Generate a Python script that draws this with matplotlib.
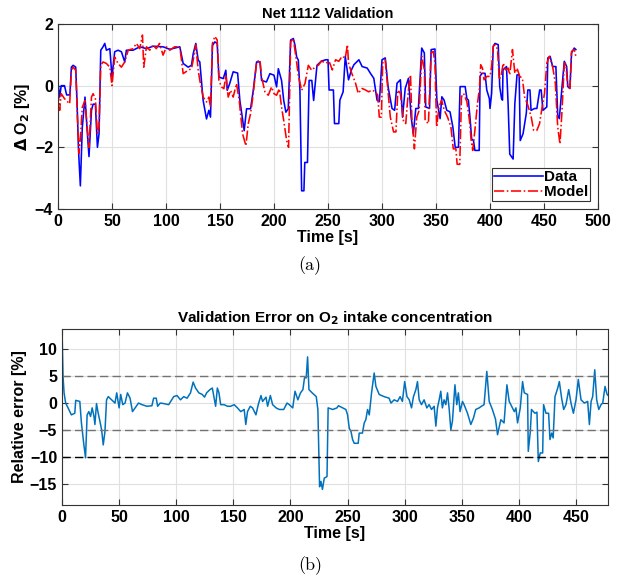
import numpy as np
import matplotlib
matplotlib.use("Agg")
import matplotlib.pyplot as plt

plt.rcParams['font.family'] = ['Liberation Sans', 'DejaVu Sans']
plt.rcParams['font.weight'] = 'bold'
plt.rcParams['axes.titleweight'] = 'bold'
plt.rcParams['axes.labelweight'] = 'bold'

# --- (a) measured vs. model, delta O2 [%] ---
data_t = [0, 1.5, 3, 6, 8, 11, 12.4, 14, 16.4, 17.6, 19, 20.7, 22.5, 25, 27, 28.7, 31, 32.5, 34.6, 36.5,
          38, 39.6, 41.7, 43.3, 44.8, 48, 50, 52.5, 55.6, 58.7, 61.8, 63.3, 69.5, 75.7, 81.9, 88, 97.3,
          103.5, 112.8, 115.9, 120.5, 123.6, 125.2, 127.6, 129.8, 131.3, 134.4, 137.5, 139.7, 141.2, 143,
          145.2, 147.4, 149, 153, 155.4, 156.7, 159, 162.2, 166.3, 168.4, 172.4, 174.6, 178.3, 180.8,
          183.9, 187, 188.5, 193, 196.2, 200, 202.4, 204, 207, 209, 211, 213.2, 215.4, 217.9, 219.4, 221,
          222.5, 224, 225.6, 227.7, 228.5, 231, 232.5, 235, 236.7, 239.8, 244, 248, 250, 251, 255, 256,
          260, 261, 264, 266, 269, 271.7, 274, 278.6, 281.6, 286.3, 289.3, 292.4, 295.4, 297.6, 300, 303,
          305.6, 309.3, 311.7, 313.9, 317, 319, 321.5, 324.5, 327, 329, 331.3, 333.7, 336.8, 339.2, 340.5,
          344, 345.5, 349, 350.8, 353.8, 355.4, 357.5, 360, 363, 365.6, 367.8, 370.8, 372.3, 377, 378.6,
          380, 381.7, 383, 384.7, 386, 390, 390.8, 392.4, 395.4, 397, 399.4, 400, 401.5, 403, 404.6, 407.6,
          409, 410.7, 411.6, 412, 415.3, 416.8, 418.3, 421.4, 423, 425, 427, 428, 430.6, 433.6, 435, 437,
          438, 441.3, 443.4, 446, 447.4, 449, 452.6, 453.5, 455.7, 458, 461, 462.7, 464.2, 466.7, 468.8,
          471, 472, 474, 475.5, 478, 479.5]
data_v = [0.12, -0.37, 0, 0, -0.3, -0.3, 0.6, 0.66, 0.6, -0.5, -2.1, -3.25, -1.35, -0.37, -1.45, -2.3, -0.8,
          -0.6, -0.6, -2.0, -1.56, 1.15, 1.26, 1.37, 1.15, 1.2, 0.28, 1.1, 1.15, 1.1, 0.77, 1.15, 1.15, 1.26,
          1.2, 1.28, 1.26, 1.18, 1.26, 0.72, 0.6, 0.66, 1.04, 1.37, 0.83, 0.77, -0.48, -1.08, -0.8, -1.02,
          1.3, 1.42, 1.37, 0.28, 0.23, 0.5, -0.15, 0.07, 0.45, 0.41, -0.48, -1.46, -0.75, -0.75, -0.15, 0.77,
          0.77, 0.17, 0.12, 0.39, 0.34, -0.04, 0.55, 0.17, -0.48, -0.86, -0.75, 1.48, 1.53, 1.32, 0.93,
          0.83, -0.15, -3.41, -3.41, -2.49, -2.49, 0.17, 0.17, -0.48, 0.66, 0.8, 0.84, 0.84, -0.14, -0.14,
          -1.23, -1.23, -0.47, -0.2, 0.95, 0.19, 0.51, 0.68, 0.84, 0.62, 0.57, 0.4, 0.24, -0.47, -0.52, 0.84,
          0.9, -0.03, -0.74, -0.8, 0.08, 0.19, -1.02, -0.09, 0.24, -1.02, -1.56, -0.74, -0.74, 1.22, 1.06,
          -0.69, -0.74, 1.17, 1.19, -0.47, -1.07, -0.36, -0.47, -0.8, -0.85, -1.34, -2.0, -2.0, -0.03,
          -0.03, -0.42, -0.47, -1.13, -1.73, -1.78, -2.1, -2.1, 0.3, 0.4, 0.4, -0.14, -0.42, -0.74, -0.25,
          1.28, 1.37, 1.33, -0.03, -0.42, -0.47, 0.51, 0.62, -0.63, -2.22, -2.38, -0.58, 0.35, 0.35, -1.78,
          -1.56, -0.9, -0.14, -0.14, -0.8, -0.74, -0.74, -0.14, -0.14, -0.8, -0.69, 0.9, 0.95, 0.62, 0.62,
          -0.96, -1.07, -0.03, 0.79, 0.62, -0.03, -0.09, 1.06, 1.22, 1.17]

model_t = [0, 1.5, 3, 6, 7.7, 10.8, 12.4, 14, 16.4, 18, 19.5, 21, 22.5, 25, 27, 28.7, 31, 32.5, 34.6, 36.5,
           38, 39.6, 41.7, 44.8, 48, 50, 52.5, 55.6, 58.7, 61.8, 65, 69.5, 72.6, 75.7, 78.2, 79.4, 81.9, 85,
           88, 91, 94, 97.3, 100.4, 103.5, 108, 112.8, 115.9, 120.5, 123.6, 125.2, 127.6, 129.8, 131.3,
           134.4, 137.5, 139.7, 141.2, 143, 145.2, 147.4, 149, 151.4, 153.6, 155.4, 157.6, 159.8, 162.2,
           165.3, 167.8, 170.9, 174, 176.1, 178.3, 180.8, 183.9, 187, 188.5, 191.6, 194.7, 197.8, 200,
           202.4, 204.9, 207, 209, 211.7, 213.5, 215.4, 217.9, 220.3, 222.5, 225.6, 228.7, 231.8, 234.9,
           238, 241, 244, 248, 251, 254, 257, 260, 263, 266, 268, 269, 272, 275.5, 278, 281.6, 284.7, 287.7,
           290.8, 293.9, 296, 297.5, 299.4, 300.6, 303, 305.5, 307.7, 310.7, 312.9, 314.7, 317, 320, 322,
           324.5, 326.4, 327.6, 330, 332.2, 334.4, 336.8, 339.3, 339.9, 343, 345.4, 347.5, 349, 350.6, 352.8,
           355.2, 357.7, 360.7, 363.8, 366, 368.4, 369.6, 372, 373.6, 375.5, 378.6, 381, 382.6, 384, 386,
           388.4, 390.2, 391.4, 393, 394.5, 397, 400, 401.5, 403, 405, 407, 408.6, 410.7, 412.2, 414.7,
           416.8, 418.3, 420.8, 423, 425, 427.5, 430, 432, 435, 438.2, 440.4, 443.4, 445.9, 448.3, 450.5,
           452.6, 455, 458, 460.5, 462.7, 464.8, 466.7, 468.8, 470.3, 472, 474, 475.5, 478, 479.5]
model_v = [-0.15, -0.8, -0.26, -0.42, -0.48, -0.59, 0.5, 0.6, 0.5, -1.02, -2.2, -1.56, -0.7, -0.48, -1.35,
           -2.0, -0.37, -0.26, -0.42, -1.56, -1.35, 0.66, 0.77, 0.72, 0.6, 0.0, 0.93, 0.72, 0.6, 0.77, 1.15,
           1.2, 1.37, 1.2, 1.64, 0.6, 1.26, 1.15, 1.32, 1.2, 1.37, 0.99, 1.26, 1.15, 1.26, 1.26, 0.39, 0.5,
           0.55, 0.83, 1.32, 0.5, 0.17, -0.37, -0.53, -0.37, -0.7, 1.37, 1.6, 1.48, 0.17, -0.04, -0.1, 0.34,
           -0.37, -0.15, -0.37, 0.07, -0.48, -1.56, -1.95, -1.24, -0.91, -0.26, 0.77, 0.83, 0.28, -0.2,
           -0.31, -0.04, -0.26, -0.31, -0.1, -0.7, -1.13, -1.78, -2.0, 1.42, 1.53, 0.93, 0.34, -0.15, 0.07,
           0.66, 0.5, 0.6, 0.66, 0.8, 0.73, 0.79, 0.51, 0.84, 0.79, 0.95, 0.9, 1.33, 0.73, 0.4, 0.08, -0.25,
           -0.09, -0.14, -0.2, -0.14, -0.2, -0.3, -1.02, -1.02, 0.73, 0.84, -0.14, -1.02, -1.5, -1.5, -0.14,
           -0.25, -1.18, -1.23, -0.14, 0.35, -1.02, -2.05, -1.02, -0.8, 0.95, 0.51, -1.13, -1.23, 1.06, 1.11,
           0.73, -1.34, -0.69, -0.47, -0.8, -1.02, -1.34, -2.05, -2.05, -2.55, -2.55, -0.36, -0.25, -0.52,
           -1.13, -1.78, -2.1, -1.45, -0.58, -0.09, 0.68, 0.57, 0.19, 0.3, 0.3, 0.62, 1.28, 1.33, 1.17, 0.19,
           0.4, 0.73, 0.51, 0.57, 0.35, 1.17, 0.4, 0.57, 0.3, 0.24, -0.36, -0.63, -1.02, -1.45, -1.45, -1.23,
           -0.69, -0.25, 0.73, 0.95, 0.62, 0.08, -1.34, -1.89, -0.8, 0.73, 0.68, -0.03, -0.09, 1.11, 1.17,
           0.95]

# --- (b) relative error [%] ---
err_t = [0, 0.9, 1.8, 3.2, 5.3, 8.2, 11.2, 12, 15.6, 17, 19, 20.6, 22, 23.5, 25, 26.4, 28, 28.8, 30.2, 31.7,
         33.2, 34.7, 36.1, 37.6, 39, 40.5, 43.5, 46.4, 47.9, 50, 51.4, 53.2, 55.2, 57.3, 59.6, 61.7, 64, 67,
         70, 74.3, 78.7, 80.2, 82.5, 83.7, 86, 89, 93.4, 97.8, 100.7, 103.7, 106.6, 109.5, 112.5, 114.8,
         116.9, 119.8, 122.8, 124.8, 126.6, 129.5, 131.6, 133, 134.5, 136, 137.4, 138.9, 141.9, 144.8,
         147.7, 150.7, 153.6, 156.5, 159.5, 160.9, 162.4, 164.8, 166.8, 169.8, 171.8, 174.2, 175.6, 178.6,
         180, 182.4, 184.4, 187.4, 190.3, 194.1, 197, 199, 202, 204, 206.5, 208.8, 210.9, 212.3, 213.8, 215,
         216.2, 219, 222.6, 224, 225.5, 226.7, 228, 229.6, 232, 233, 237, 240.7, 242, 245.6, 248.5, 250,
         251.5, 253, 254.4, 255.8, 259.3, 260.2, 263, 264.6, 266, 267.5, 269, 271, 273.3, 274.8, 277.7, 282,
         286.4, 288, 290.8, 293.7, 296, 298, 300, 302, 304, 306, 307.7, 309.8, 311.2, 312.7, 314.7, 317,
         319.4, 321.4, 323.5, 325.8, 327.3, 328.7, 330.2, 331.6, 333, 334.5, 336, 337.5, 339, 340.4, 341.8,
         344, 345.6, 347, 348.5, 350.6, 352, 355, 357.9, 360.2, 362.2, 365.2, 367.2, 369.5, 371.9, 374,
         376.8, 379.5, 381.3, 384.2, 387, 389.5, 391.5, 393.6, 396, 397.4, 398.8, 401.2, 403.2, 404.7,
         407.6, 408.2, 410, 411, 414, 415.8, 417, 418.7, 420.8, 421.6, 423.7, 426, 427.2, 428.7, 430, 431.6,
         434, 435.4, 437.4, 439.2, 441.2, 443.6, 445.6, 447.7, 450, 452, 454.4, 457.3, 460.2, 461.7, 463.2,
         464.6, 466.4, 468.1, 469.9, 471.9, 473.4, 475.4, 477.2, 479.2]
err_v = [13.9, 5, 1.9, 0, -0.9, -2.2, -1.9, 0.5, 0.3, -3.7, -7.5, -10.2, -2.2, -1.6, -2.5, -0.9, -2.5, -4,
         -0.1, -1.9, -3.4, -5, -7.8, -5.3, 0.6, 1.2, 0.6, 0, 1.9, -0.9, 1.6, -0.3, 0, 1.9, 0.9, -1.6, -0.9,
         0, -0.3, -0.6, -0.5, 0.9, 0.9, -0.6, 0, -0.1, -0.3, 1.2, 1.4, 0.6, 1.2, 0.9, 1.9, 3.9, 2.8, 1.9,
         1.6, 1.1, 1.9, 2.5, 2.8, 1.2, -0.6, 2.8, 1.9, -0.3, -0.3, -0.6, -0.6, -0.3, -0.9, -1.6, -1.2, -4,
         -1.6, -0.6, -0.9, -2.2, -0.3, 1.4, 0.3, 1.1, -0.6, 1.4, -0.3, -0.9, -1.2, -1.2, 0, -0.3, -0.9,
         2.2, 0.6, 1.9, 2.5, 4.7, 4.7, 8.6, 2.5, 1.9, 1.2, -1.2, -15.6, -14.6, -16.1, -14, -13.7, -0.9,
         -1.2, -0.9, -0.5, -0.9, -1.2, -2.2, -4.7, -5.3, -6.8, -7.5, -7.5, -5.6, -5.6, -3.7, -3.1, -1.2,
         -2.2, 1.9, 5.6, 3.1, 1.6, 1.2, 0.9, 0, 0.6, 0.3, 1.2, 0.3, 4, 1.2, 0.6, -0.9, 1.2, 2.5, 4, 0.6,
         -0.3, 0.6, -0.9, -0.3, -1.2, -0.6, -4.3, -0.9, 0.6, 2.2, -0.9, 0.6, -0.3, 1.9, -1.2, -5, -3.4,
         3.4, -0.3, 1.9, -1.6, 0.3, -0.3, -1.9, -4, -2.8, -1.2, -0.9, -0.6, -0.3, 5.9, 0.3, -1.2, -3.0,
         -5.9, -3.1, -3.7, 3.4, 0.3, -0.6, -1.6, -0.9, -3.7, -0.9, 4, 1.9, 1.6, -9, -5.3, -1.2, -1.9, -1.7,
         -10.9, -9.3, -9.3, -0.3, -1.9, -1.9, -6.8, -5.6, -6.5, 1.2, 2.8, 4, 0.9, -1.2, -0.3, 2.5, 0, -1.9,
         0.6, 4.4, 0.6, 0, 0.3, -4, 0.3, 1.2, 6.2, 0.6, -1.2, -0.3, 0, 3.1, 1.6, 1.2]

limit_lines = [5, -5]
hard_limit = -10

fig = plt.figure(figsize=(6.22, 5.81), dpi=100)
ax1 = fig.add_axes([58/622, 1-209/581, 540/622, 185/581])
ax2 = fig.add_axes([62/622, 1-505/581, 546/622, 176/581])

for ax in (ax1, ax2):
    ax.grid(True, color='0.88', linewidth=0.8)
    ax.set_axisbelow(True)
    ax.tick_params(direction='in', top=True, right=True, labelsize=11.5, length=4, color='0.2')
    for s in ax.spines.values():
        s.set_color('0.2')

ax1.plot(data_t, data_v, color='#0000ff', linewidth=1.15, label='Data')
ax1.plot(model_t, model_v, color='#ff0000', linewidth=1.15, linestyle='-.', label='Model')
ax1.set_xlim(0, 500)
ax1.set_ylim(-4, 2)
ax1.set_xticks(np.arange(0, 501, 50))
ax1.set_yticks([-4, -2, 0, 2])
ax1.set_title('Net 1112 Validation', fontsize=10.5, pad=4)
ax1.set_xlabel('Time [s]', fontsize=11.5, labelpad=1)
ax1.set_ylabel(r'$\mathbf{\Delta}$ O$_\mathbf{2}$ [%]', fontsize=11.5, labelpad=2)
leg = ax1.legend(loc='lower right', fontsize=11, frameon=True, fancybox=False,
                 edgecolor='0.2', framealpha=1, handlelength=3.2, borderpad=0.15,
                 labelspacing=0.05, handletextpad=0.05, borderaxespad=0.5)
leg.get_frame().set_linewidth(0.8)

ax2.plot(err_t, err_v, color='#0072BD', linewidth=1.1)
for y in limit_lines:
    ax2.axhline(y, color='0.45', linestyle='--', linewidth=1.0, dashes=(6, 3))
ax2.axhline(hard_limit, color='black', linestyle='--', linewidth=1.0, dashes=(6, 3))
ax2.set_xlim(0, 478)
ax2.set_ylim(-19, 13.8)
ax2.set_xticks(np.arange(0, 451, 50))
ax2.set_yticks([-15, -10, -5, 0, 5, 10])
ax2.set_title(r'Validation Error on O$_\mathbf{2}$ intake concentration', fontsize=11, pad=5)
ax2.set_xlabel('Time [s]', fontsize=11.5, labelpad=1)
ax2.set_ylabel('Relative error [%]', fontsize=11.5, labelpad=2)

for ax in (ax1, ax2):
    for lab in ax.get_xticklabels() + ax.get_yticklabels():
        lab.set_fontweight('bold')

fig.text(310/622, 1-266/581, '(a)', family='cmr10', fontsize=13, ha='center', va='center', fontweight='normal')
fig.text(310/622, 1-566/581, '(b)', family='cmr10', fontsize=13, ha='center', va='center', fontweight='normal')

fig.savefig('out.png', dpi=100)
